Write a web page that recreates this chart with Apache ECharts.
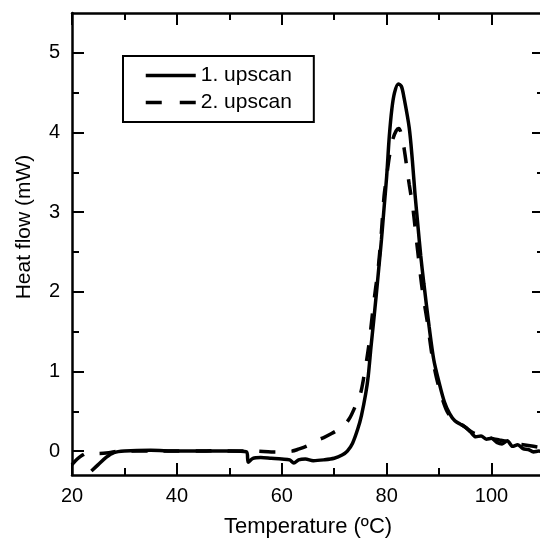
<!DOCTYPE html>
<html>
<head>
<meta charset="utf-8">
<script src="https://cdn.jsdelivr.net/npm/echarts@6/dist/echarts.min.js"></script>
<style>
html,body{margin:0;padding:0;background:#fff;}
#c{width:540px;height:540px;}
</style>
</head>
<body>
<div id="c"></div>
<script>
// ---- data ----
const seriesNames = ['1. upscan', '2. upscan'];
const xTitle = 'Temperature (ºC)';
const yTitle = 'Heat flow (mW)';
const yMajorTicks = [0, 1, 2, 3, 4, 5];
const yMinorTicks = [0.5, 1.5, 2.5, 3.5, 4.5];

const upscan1T = [23.7,25,26.5,28,30,35,40,45,50,53.3,53.6,54.5,56,58,60,61.5,62.3,63.2,64.5,66,68,70,71.5,72.5,73.5,74.5,75.2,76,76.5,77,77.5,78,78.5,79,79.5,80,80.5,81,81.5,82.2,82.8,83.3,84.3,84.9,85.4,86,86.5,87.1,88.1,89,90,91,92,93,94,95,96,97,98,99,100,101,102,103,104,105,106,107,108,109,110];
const upscan1V = [-0.25,-0.17,-0.08,-0.02,0.0,0.01,0.0,0.0,0.0,-0.01,-0.14,-0.09,-0.08,-0.09,-0.1,-0.11,-0.15,-0.11,-0.1,-0.12,-0.11,-0.09,-0.05,0.0,0.1,0.28,0.45,0.72,0.95,1.3,1.62,1.95,2.3,2.65,3.05,3.45,3.95,4.3,4.5,4.61,4.58,4.44,4.06,3.65,3.23,2.8,2.45,2.1,1.56,1.14,0.86,0.62,0.47,0.38,0.34,0.3,0.24,0.18,0.19,0.15,0.16,0.11,0.09,0.13,0.06,0.08,0.03,0.02,-0.01,0.0,-0.02];

const upscan2T = [20,21,22,23,25,27,29,35,40,45,48,50,55,58,60,62,63,65,66.5,68,69.5,71,72,73,74,75,75.7,76.2,76.7,77.3,77.9,78.4,79,79.5,80,80.5,81.1,81.8,82.3,82.8,83.3,84.3,84.9,85.2,85.9,86.8,87.8,88.7,89.5,90.5,91.5,92.5,93.5,95,96.5,98,100,101.5,103,105,107,109,110];
const upscan2V = [-0.17,-0.1,-0.05,-0.02,-0.03,-0.02,0.0,0.0,0.0,0.0,0.01,0.0,0.0,-0.01,-0.01,0.0,0.02,0.07,0.13,0.17,0.22,0.28,0.33,0.42,0.56,0.72,0.95,1.15,1.38,1.73,2.05,2.3,2.75,3.2,3.45,3.69,3.9,4.02,4.05,3.98,3.81,3.35,3.1,2.94,2.52,2.02,1.6,1.18,0.92,0.68,0.5,0.41,0.37,0.3,0.23,0.2,0.16,0.14,0.12,0.09,0.07,0.05,0.04];

function pairs(t, v) { return t.map((x, i) => [x, v[i]]); }

// ---- chart ----
const FONT = 'Liberation Sans, Arial, Helvetica, sans-serif';
const chart = echarts.init(document.getElementById('c'), null, {renderer: 'canvas'});
const axisLine = {show: true, onZero: false, lineStyle: {color: '#000', width: 2.5}};
const noLine = {show: false, onZero: false};
const yBase = {type: 'value', min: -0.3, max: 5.5, splitLine: {show: false}, axisLine: axisLine};

chart.setOption({
  animation: false,
  backgroundColor: '#fff',
  textStyle: {fontFamily: FONT, color: '#000'},
  grid: {left: 72, top: 13, width: 472, height: 462, containLabel: false, outerBoundsMode: 'none'},
  legend: {
    orient: 'vertical', left: 123, top: 56,
    padding: [9, 22, 9, 21],
    borderColor: '#000', borderWidth: 2,
    itemWidth: 50, itemHeight: 14, itemGap: 6,
    itemStyle: {opacity: 0},
    lineStyle: {width: 3.5},
    textStyle: {fontSize: 21, color: '#000', fontFamily: FONT},
    data: [
      {name: seriesNames[0]},
      {
        name: seriesNames[1],
        icon: 'path://M0,0L0,0M50,14L50,14M0,5.25h16v3.5h-16zM34,5.25h16v3.5h-16z',
        itemStyle: {opacity: 1, color: '#000', borderWidth: 0}
      }
    ]
  },
  xAxis: [
    {
      type: 'value', position: 'bottom', min: 20, max: 110, interval: 20,
      name: xTitle, nameLocation: 'middle', nameGap: 41,
      nameTextStyle: {fontSize: 22, color: '#000', fontFamily: FONT},
      axisLine: axisLine,
      axisTick: {show: true, inside: true, length: 12, lineStyle: {color: '#000', width: 2}},
      minorTick: {show: true, splitNumber: 2, length: 7, lineStyle: {color: '#000', width: 2}},
      axisLabel: {fontSize: 20, color: '#000', margin: 11, fontFamily: FONT, showMaxLabel: false},
      splitLine: {show: false}
    },
    {
      type: 'value', position: 'top', min: 20, max: 110, interval: 20,
      axisLine: axisLine,
      axisTick: {show: true, inside: true, length: 12, lineStyle: {color: '#000', width: 2}},
      minorTick: {show: true, splitNumber: 2, length: 7, lineStyle: {color: '#000', width: 2}},
      axisLabel: {show: false},
      splitLine: {show: false}
    }
  ],
  yAxis: [
    Object.assign({}, yBase, {
      position: 'left',
      name: yTitle, nameLocation: 'middle', nameGap: 37,
      nameTextStyle: {fontSize: 21, color: '#000', fontFamily: FONT, padding: [0, 0, 0, 34]},
      axisTick: {show: true, inside: true, length: 12, customValues: yMajorTicks, lineStyle: {color: '#000', width: 2}},
      axisLabel: {fontSize: 20, color: '#000', margin: 12, fontFamily: FONT, customValues: yMajorTicks}
    }),
    Object.assign({}, yBase, {
      position: 'left',
      axisLine: noLine,
      axisTick: {show: true, inside: true, length: 7, customValues: yMinorTicks, lineStyle: {color: '#000', width: 2}},
      axisLabel: {show: false}
    }),
    Object.assign({}, yBase, {
      position: 'right',
      axisTick: {show: true, inside: true, length: 12, customValues: yMajorTicks, lineStyle: {color: '#000', width: 2}},
      axisLabel: {show: false}
    }),
    Object.assign({}, yBase, {
      position: 'right',
      axisLine: noLine,
      axisTick: {show: true, inside: true, length: 7, customValues: yMinorTicks, lineStyle: {color: '#000', width: 2}},
      axisLabel: {show: false}
    })
  ],
  series: [
    {
      name: seriesNames[0], type: 'line', xAxisIndex: 0, yAxisIndex: 0,
      data: pairs(upscan1T, upscan1V),
      symbol: 'none', showSymbol: false, smooth: 0.3, clip: true,
      lineStyle: {color: '#000', width: 3.5, type: 'solid'},
      itemStyle: {color: '#000'}
    },
    {
      name: seriesNames[1], type: 'line', xAxisIndex: 0, yAxisIndex: 0,
      data: pairs(upscan2T, upscan2V),
      symbol: 'none', showSymbol: false, smooth: 0.3, clip: true,
      lineStyle: {color: '#000', width: 3.5, type: [16, 16], cap: 'butt'},
      itemStyle: {color: '#000'}
    }
  ]
});
</script>
</body>
</html>
